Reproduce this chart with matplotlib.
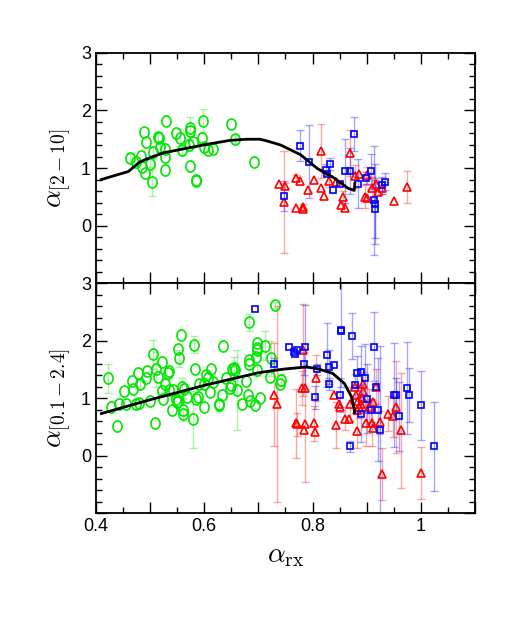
import numpy as np
import matplotlib
matplotlib.use("Agg")
import matplotlib.pyplot as plt
from matplotlib.path import Path
from matplotlib.ticker import MultipleLocator, FuncFormatter

plt.rcParams["font.family"] = ["Liberation Sans", "DejaVu Sans"]
plt.rcParams["mathtext.fontset"] = "cm"

# ---- top panel: alpha_[2-10] vs alpha_rx ----
top_green_x = [0.462, 0.473, 0.484, 0.488, 0.493, 0.485, 0.490, 0.500, 0.504, 0.505,
               0.515, 0.517, 0.518, 0.528, 0.527, 0.528, 0.529, 0.548, 0.556, 0.559,
               0.571, 0.574, 0.574, 0.579, 0.573, 0.584, 0.584, 0.598, 0.596, 0.599,
               0.607, 0.617, 0.649, 0.657, 0.691]
top_green_y = [1.17, 1.10, 1.21, 1.62, 1.46, 1.02, 0.91, 1.07, 0.76, 1.27,
               1.54, 1.52, 1.37, 1.33, 1.20, 0.97, 1.82, 1.61, 1.53, 1.31,
               1.40, 1.69, 1.65, 1.46, 1.03, 0.79, 0.77, 1.82, 1.52, 1.37,
               1.31, 1.33, 1.76, 1.50, 1.10]
top_green_err = [0.08, 0, 0, 0, 0, 0, 0, 0.08, 0.25, 0.1,
                 0.08, 0, 0.1, 0, 0, 0, 0, 0, 0.15, 0.08,
                 0.1, 0.2, 0, 0, 0, 0, 0, 0.2, 0, 0,
                 0, 0, 0, 0.07, 0]

top_blue_x = [0.748, 0.776, 0.794, 0.825, 0.826, 0.833, 0.838, 0.851, 0.860, 0.870,
              0.876, 0.884, 0.898, 0.908, 0.914, 0.916, 0.916, 0.928, 0.934]
top_blue_y = [0.51, 1.39, 1.11, 0.97, 0.90, 1.07, 0.62, 0.73, 0.95, 0.95,
              1.59, 0.73, 0.83, 0.94, 0.44, 0.37, 0.29, 0.70, 0.76]
top_blue_err = [0.26, 0.27, 0.64, 0.1, 0, 0.1, 0, 0, 0.55, 0.4,
                0.3, 0.42, 0.1, 0.3, 0.95, 0.7, 0.5, 0.15, 0.15]

top_red_x = [0.738, 0.749, 0.747, 0.770, 0.776, 0.770, 0.782, 0.782, 0.792, 0.802,
             0.816, 0.816, 0.822, 0.831, 0.844, 0.857, 0.853, 0.860, 0.869, 0.879,
             0.885, 0.901, 0.897, 0.901, 0.909, 0.918, 0.921, 0.929, 0.951, 0.974]
top_red_y = [0.72, 0.69, 0.41, 0.82, 0.78, 0.31, 0.33, 0.28, 0.61, 0.79,
             1.30, 0.66, 0.51, 0.77, 0.76, 0.50, 0.36, 0.31, 1.26, 0.86,
             0.89, 0.87, 0.50, 0.47, 0.65, 0.73, 0.58, 0.65, 0.43, 0.67]
top_red_err = [0, 0.05, 0.88, 0.05, 0, 0, 0.05, 0, 0, 0,
               0.47, 0, 0, 0.1, 0, 0.1, 0, 0, 0.4, 0.2,
               0, 0.15, 0.2, 0, 0.2, 0.1, 0, 0.1, 0, 0.27]

top_curve_x = [0.41, 0.435, 0.46, 0.465, 0.48, 0.50, 0.523, 0.56, 0.604, 0.647,
               0.678, 0.703, 0.716, 0.741, 0.778, 0.809, 0.841, 0.865, 0.877, 0.878]
top_curve_y = [0.80, 0.87, 0.94, 0.98, 1.10, 1.18, 1.26, 1.33, 1.41, 1.48,
               1.50, 1.50, 1.47, 1.40, 1.23, 0.99, 0.82, 0.65, 0.61, 0.73]

# ---- bottom panel: alpha_[0.1-2.4] vs alpha_rx ----
bot_green_x = [0.422, 0.428, 0.439, 0.442, 0.451, 0.456, 0.467, 0.469, 0.473, 0.480,
               0.478, 0.481, 0.492, 0.495, 0.500, 0.505, 0.509, 0.511, 0.515, 0.521,
               0.521, 0.524, 0.527, 0.533, 0.535, 0.534, 0.540, 0.543, 0.548, 0.550,
               0.551, 0.553, 0.551, 0.557, 0.559, 0.561, 0.561, 0.563, 0.568, 0.581,
               0.582, 0.579, 0.584, 0.590, 0.588, 0.599, 0.604, 0.606, 0.600, 0.611,
               0.613, 0.616, 0.627, 0.627, 0.632, 0.634, 0.640, 0.647, 0.650, 0.654,
               0.652, 0.656, 0.660, 0.669, 0.677, 0.680, 0.682, 0.683, 0.683, 0.685,
               0.694, 0.696, 0.697, 0.697, 0.698, 0.697, 0.702, 0.712, 0.721, 0.723,
               0.730, 0.741, 0.740]
bot_green_y = [1.34, 0.85, 0.51, 0.89, 1.12, 0.89, 1.29, 1.15, 0.89, 0.91,
               1.44, 1.24, 1.34, 1.47, 0.95, 1.76, 0.56, 1.50, 1.37, 1.63,
               1.12, 0.99, 1.25, 1.43, 1.47, 1.14, 0.79, 1.14, 0.99, 0.93,
               0.95, 1.69, 1.86, 2.09, 1.19, 0.80, 0.72, 1.15, 1.01, 1.93,
               1.51, 0.63, 0.99, 1.25, 1.02, 0.85, 1.40, 1.35, 1.25, 1.11,
               1.50, 1.28, 0.90, 0.87, 1.05, 1.91, 1.35, 1.18, 1.22, 1.52,
               1.50, 1.48, 1.14, 0.90, 1.29, 1.05, 1.66, 1.60, 2.32, 0.94,
               0.87, 1.72, 1.95, 1.87, 1.83, 1.48, 1.00, 1.91, 1.37, 1.69,
               2.62, 1.31, 1.24]
bot_green_err = [0.26, 0, 0, 0, 0, 0, 0, 0, 0.08, 0,
                 0, 0.08, 0, 0, 0, 0.25, 0, 0.3, 0, 0,
                 0, 0, 0, 0, 0, 0, 0, 0, 0, 0,
                 0, 0.15, 0, 0, 0.15, 0.2, 0, 0, 0, 0.15,
                 0, 0.5, 0, 0, 0, 0, 0, 0, 0, 0,
                 0, 0, 0, 0.1, 0, 0, 0, 0, 0, 0.2,
                 0, 0, 0.7, 0, 0, 0, 0, 0, 0.15, 0,
                 0, 0, 0, 0, 0, 0.1, 0, 0.25, 0, 0.3,
                 0.05, 0.1, 0]

bot_blue_x = [0.694, 0.728, 0.756, 0.766, 0.768, 0.771, 0.786, 0.784, 0.809, 0.805,
              0.827, 0.831, 0.840, 0.830, 0.853, 0.853, 0.873, 0.850, 0.882, 0.890,
              0.878, 0.897, 0.913, 0.917, 0.869, 0.900, 0.890, 0.907, 0.921, 0.924,
              0.950, 0.955, 0.959, 0.974, 0.979, 1.000, 1.025]
bot_blue_y = [2.55, 1.60, 1.88, 1.80, 1.77, 1.84, 1.89, 1.60, 1.50, 1.01,
              1.75, 1.54, 1.57, 1.24, 2.19, 2.17, 2.08, 1.05, 1.43, 1.46,
              1.22, 1.34, 1.89, 1.20, 0.16, 0.99, 0.73, 0.79, 0.80, 0.45,
              1.05, 1.05, 0.68, 1.18, 1.05, 0.87, 0.16]
bot_blue_err = [0, 0.1, 0, 0, 0, 0, 0.73, 0.2, 0.1, 0.2,
                0.55, 0.3, 0, 0.1, 1.0, 0, 0.4, 0.3, 0.3, 0.45,
                0.2, 0.6, 0.6, 0, 0.1, 0.6, 0.5, 0.2, 0.9, 1.45,
                0.9, 0.3, 0.6, 0.8, 0.47, 0.6, 0.77]

bot_red_x = [0.728, 0.734, 0.769, 0.783, 0.807, 0.780, 0.786, 0.772, 0.786, 0.784,
             0.802, 0.804, 0.844, 0.840, 0.849, 0.851, 0.859, 0.867, 0.869, 0.882,
             0.878, 0.880, 0.884, 0.886, 0.882, 0.890, 0.891, 0.893, 0.893, 0.898,
             0.909, 0.912, 0.911, 0.905, 0.924, 0.929, 0.917, 0.940, 0.948, 0.955,
             0.963, 1.001]
bot_red_y = [1.06, 0.90, 0.56, 1.83, 1.34, 1.17, 1.17, 0.54, 0.54, 0.44,
             0.56, 0.41, 0.53, 1.05, 0.90, 0.85, 0.64, 0.64, 0.90, 0.43,
             1.20, 1.05, 0.95, 0.85, 0.80, 0.90, 1.00, 1.12, 1.25, 0.57,
             0.56, 0.47, 0.93, 0.85, 0.58, -0.32, 1.20, 0.73, 0.68, 0.85,
             0.44, -0.30]
bot_red_err = [0.9, 1.7, 0.6, 0.8, 0.4, 0.3, 0, 0.2, 1.0, 0,
               0.3, 0, 0.4, 0, 0, 0, 0.2, 0, 0.3, 0.3,
               0, 0, 0, 0.2, 0, 0, 0.25, 0, 0.2, 0.4,
               0.4, 0, 0, 0.3, 0.2, 0.45, 0.3, 0.3, 0.35, 0.8,
               1.0, 0.45]

bot_curve_x = [0.41, 0.50, 0.60, 0.70, 0.744, 0.788, 0.809, 0.837, 0.859, 0.872, 0.878]
bot_curve_y = [0.73, 0.97, 1.22, 1.44, 1.50, 1.54, 1.51, 1.43, 1.25, 1.02, 0.75]

GREEN = "#00e600"
BLUE = "#0000ff"
RED = "#ff0000"

# the open circles in the original are drawn slightly taller than wide
_c = Path.unit_circle()
OVAL = Path(_c.vertices * np.array([0.82, 1.0]), _c.codes)


def draw_set(ax, x, y, err, color, marker, ms):
    x = np.asarray(x)
    y = np.asarray(y)
    err = np.asarray(err)
    m = err > 0
    ax.errorbar(x[m], y[m], yerr=err[m], fmt="none", ecolor=color, alpha=0.35,
                elinewidth=1.0, capsize=3, capthick=1.0, zorder=1)
    ax.plot(x, y, linestyle="none", marker=marker, ms=ms, mfc="none",
            mec=color, mew=1.2, zorder=3)


def style_axis(ax, show_xlabels):
    ax.set_xlim(0.4, 1.1)
    ax.set_ylim(-1, 3)
    ax.xaxis.set_major_locator(MultipleLocator(0.1))
    ax.xaxis.set_minor_locator(MultipleLocator(0.05))
    ax.yaxis.set_major_locator(MultipleLocator(1))
    ax.yaxis.set_minor_locator(MultipleLocator(0.2))
    ax.tick_params(which="both", direction="in", top=True, right=True,
                   width=1.0, labelsize=13)
    ax.tick_params(which="major", length=8)
    ax.tick_params(which="minor", length=4)
    ax.yaxis.set_major_formatter(
        FuncFormatter(lambda v, p: "%d" % round(v) if v > -0.5 else ""))
    if show_xlabels:
        def fx(v, p):
            k = int(round(v * 10))
            if k % 2 or k > 10:
                return ""
            return "1" if k == 10 else "%.1f" % v
        ax.xaxis.set_major_formatter(FuncFormatter(fx))
    else:
        ax.tick_params(labelbottom=False)
    for s in ax.spines.values():
        s.set_linewidth(1.3)


fig = plt.figure(figsize=(5.18, 6.27), dpi=100)
ax1 = fig.add_axes([0.1853, 0.5486, 0.7317, 0.3669])
ax2 = fig.add_axes([0.1853, 0.1818, 0.7317, 0.3668])

draw_set(ax1, top_green_x, top_green_y, top_green_err, GREEN, OVAL, 8)
draw_set(ax1, top_red_x, top_red_y, top_red_err, RED, "^", 6)
draw_set(ax1, top_blue_x, top_blue_y, top_blue_err, BLUE, "s", 5)
ax1.plot(top_curve_x, top_curve_y, color="black", lw=2.0, zorder=4)

draw_set(ax2, bot_green_x, bot_green_y, bot_green_err, GREEN, OVAL, 8)
draw_set(ax2, bot_red_x, bot_red_y, bot_red_err, RED, "^", 6)
draw_set(ax2, bot_blue_x, bot_blue_y, bot_blue_err, BLUE, "s", 5)
ax2.plot(bot_curve_x, bot_curve_y, color="black", lw=2.0, zorder=4)

style_axis(ax1, False)
style_axis(ax2, True)

ax1.set_ylabel(r"$\alpha_{[2-10]}$", fontsize=20, labelpad=6)
ax2.set_ylabel(r"$\alpha_{[0.1-2.4]}$", fontsize=20, labelpad=6)
ax2.set_xlabel(r"$\alpha_{\rm rx}$", fontsize=20, labelpad=6)

fig.savefig("out.png", dpi=100)
